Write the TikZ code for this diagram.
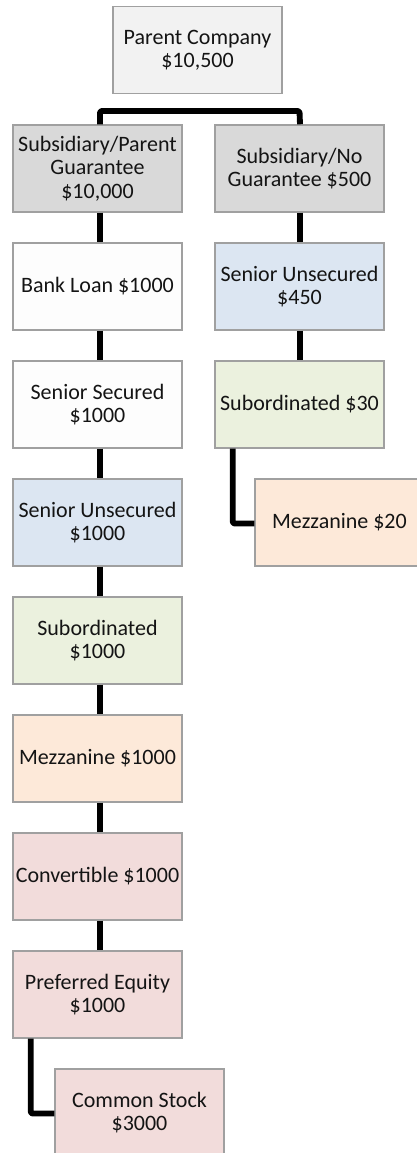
\documentclass[tikz,border=0pt]{standalone}
\usepackage{fontspec}
\setmainfont{Carlito}
\usetikzlibrary{calc}
\definecolor{bordergray}{HTML}{A0A0A0}
\definecolor{cparent}{HTML}{F2F2F2}
\definecolor{csub}{HTML}{D9D9D9}
\definecolor{cwhite}{HTML}{FDFDFD}
\definecolor{cblue}{HTML}{DCE6F2}
\definecolor{cgreen}{HTML}{EBF1DE}
\definecolor{corange}{HTML}{FDE9D9}
\definecolor{cpink}{HTML}{F2DCDB}
\definecolor{ctext}{HTML}{141414}
\tikzset{
  box/.style={draw=bordergray, line width=1.1pt, minimum width=126.75pt, minimum height=65.25pt,
    inner sep=0pt, align=center, text=ctext,
    font=\fontsize{16.5}{17.6}\selectfont},
  link/.style={line width=4.4pt, black, line join=round, rounded corners=1.5pt}
}
\begin{document}
\begin{tikzpicture}[x=0.75pt,y=-0.75pt]
\useasboundingbox (0,0) rectangle (417,1153);
\clip (0,0) rectangle (417,1153);
\fill[white] (0,0) rectangle (417,1153);
% nodes
\node[box, fill=cparent] (P) at (197.5,50) {Parent Company\\\$10,500};
\node[box, fill=csub] (L1) at (97.5,168.5) {Subsidiary/Parent\\Guarantee\\\$10,000};
\node[box, fill=csub] (R1) at (299.5,168.5) {Subsidiary/No\\Guarantee \$500};
\node[box, fill=cwhite] (L2) at (97.5,286.5) {Bank Loan \$1000};
\node[box, fill=cwhite] (L3) at (97.5,404.5) {Senior Secured\\\$1000};
\node[box, fill=cblue] (L4) at (97.5,522.5) {Senior Unsecured\\\$1000};
\node[box, fill=cgreen] (L5) at (97.5,640.5) {Subordinated\\\$1000};
\node[box, fill=corange] (L6) at (97.5,758.5) {Mezzanine \$1000};
\node[box, fill=cpink] (L7) at (97.5,876.5) {Convertible \$1000};
\node[box, fill=cpink] (L8) at (97.5,994.5) {Preferred Equity\\\$1000};
\node[box, fill=cpink] (L9) at (139.5,1112.5) {Common Stock\\\$3000};
\node[box, fill=cblue] (R2) at (299.5,286.5) {Senior Unsecured\\\$450};
\node[box, fill=cgreen] (R3) at (299.5,404.5) {Subordinated \$30};
\node[box, fill=corange] (R4) at (339.5,522.5) {Mezzanine \$20};
\coordinate (bus) at (0,111);
% connectors
\draw[link] ($(L1.north)+(2.5,0)$) |- (bus -| R1.north) -- ($(R1.north)+(0.5,0)$);
\draw[link, rounded corners=0pt] ($(P.south)+(2.5,0)$) -- ($(P.south)+(2.5,0)$ |- bus);
\draw[link] ($(L1.south)+(2.5,0)$) -- ($(L2.north)+(2.5,0)$);
\draw[link] ($(L2.south)+(2.5,0)$) -- ($(L3.north)+(2.5,0)$);
\draw[link] ($(L3.south)+(2.5,0)$) -- ($(L4.north)+(2.5,0)$);
\draw[link] ($(L4.south)+(2.5,0)$) -- ($(L5.north)+(2.5,0)$);
\draw[link] ($(L5.south)+(2.5,0)$) -- ($(L6.north)+(2.5,0)$);
\draw[link] ($(L6.south)+(2.5,0)$) -- ($(L7.north)+(2.5,0)$);
\draw[link] ($(L7.south)+(2.5,0)$) -- ($(L8.north)+(2.5,0)$);
\draw[link] ($(L8.south west)+(18.5,0)$) |- ($(L9.west)+(0,1)$);
\draw[link] ($(R1.south)+(0.5,0)$) -- ($(R2.north)+(0.5,0)$);
\draw[link] ($(R2.south)+(0.5,0)$) -- ($(R3.north)+(0.5,0)$);
\draw[link] ($(R3.south west)+(18.5,0)$) |- ($(R4.west)+(0,1)$);
\end{tikzpicture}
\end{document}
